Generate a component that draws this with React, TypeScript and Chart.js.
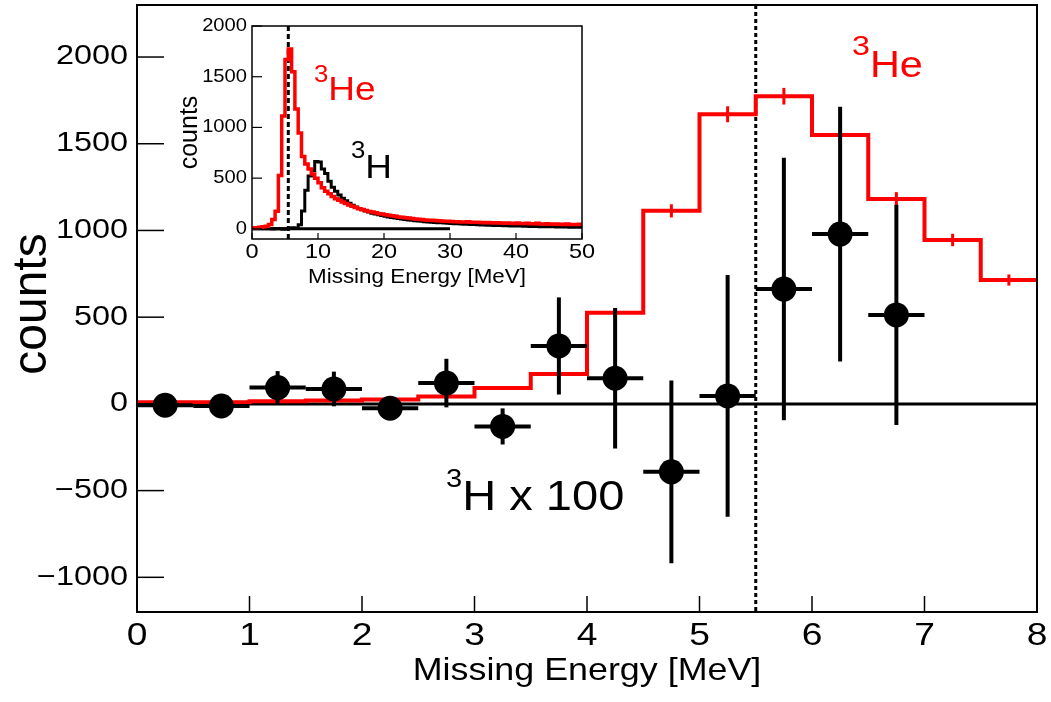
import { useEffect, useRef } from "react";
import { Chart, registerables } from "chart.js";

Chart.register(...registerables);

const FONT = '"Liberation Sans", Arial, Helvetica, sans-serif';
const RED = "#ff0000";
const BLACK = "#000000";

// Histogram binning shared by both panels (MeV)
const binWidth = 0.5;

// Main panel ranges and ticks
const mainXRange = [0, 8];
const mainYRange = [-1200, 2300];
const mainXTicks = [0, 1, 2, 3, 4, 5, 6, 7, 8];
const mainYTicks = [-1000, -500, 0, 500, 1000, 1500, 2000];

// Inset ranges and ticks
const insetXRange = [0, 50];
const insetYRange = [-100, 2000];
const insetXTicks = [0, 10, 20, 30, 40, 50];
const insetYTicks = [0, 500, 1000, 1500, 2000];

// Dashed marker position (MeV)
const markerEnergy = 5.5;

// 3He missing-energy spectrum, counts per 0.5 MeV bin from 0 to 50 MeV
const he3Counts = [
  10, 10, 15, 20, 25, 42, 92, 173, 526, 1113, 1670, 1774, 1550, 1181, 945, 714,
  640, 590, 540, 500, 455, 405, 372, 345, 320, 298,
  282, 266, 250, 236, 222, 210, 198, 190, 180, 172,
  165, 158, 150, 146, 140, 134, 128, 124, 118, 114,
  110, 106, 102, 98, 95, 92, 88, 86, 84, 82,
  80, 78, 76, 74,
  72, 70, 71, 68, 67, 69, 65, 64, 66, 62,
  61, 63, 60, 58, 61, 57, 56, 58, 55, 54,
  57, 53, 52, 55, 51, 50, 56, 49, 48, 50,
  47, 46, 49, 45, 44, 47, 43, 44, 42, 45,
];

// Statistical uncertainties of the 3He bins in the main panel (0-8 MeV)
const he3Errors = [3, 3, 4, 5, 5, 7, 10, 14, 24, 38, 46, 48, 44, 40, 36, 32];

// 3H yield scaled x100: bin centres, values and uncertainties
const h3Centers = [0.25, 0.75, 1.25, 1.75, 2.25, 2.75, 3.25, 3.75, 4.25, 4.75, 5.25, 5.75, 6.25, 6.75];
const h3Scaled = [-8, -12, 94, 86, -25, 120, -130, 334, 148, -392, 46, 662, 979, 513];
const h3ScaledErr = [25, 25, 95, 100, 40, 140, 104, 280, 405, 527, 697, 757, 735, 635];

// 3H missing-energy spectrum, counts per 0.5 MeV bin from 0 to 50 MeV
const h3Counts = [
  0, 0, 1, 1, 0, 1, -1, 3, 2, -4, 0, 7, 10, 5,
  40, 175, 380, 520, 575, 665, 660, 590, 545, 470,
  410, 372, 335, 302, 276, 252, 233, 216, 201, 188,
  176, 165, 155, 146, 138, 131, 124, 118, 112, 106,
  101, 97, 92, 88, 84, 80, 77,
  74, 71, 68, 66, 63, 61, 59, 57, 55,
  53, 51, 50, 48, 46, 45, 43, 42, 40, 39,
  38, 36, 35, 34, 33, 32, 31, 30, 29, 28,
  27, 27, 26, 25, 24, 24, 23, 22, 22, 21,
  20, 20, 19, 19, 18, 18, 17, 17, 16, 16,
];

// Extent of the 3H zero baseline drawn in the inset (MeV)
const h3BaselineRange = [0, 30];

const mainBins = Math.round((mainXRange[1] - mainXRange[0]) / binWidth);
const mainHe3 = he3Counts.slice(0, mainBins);

function stepPoints(values: number[], start: number) {
  const pts = values.map((v, i) => ({ x: start + i * binWidth, y: v }));
  pts.push({ x: start + values.length * binWidth, y: values[values.length - 1] });
  return pts;
}

function fmt(v: number) {
  return v < 0 ? "\u2212" + Math.abs(v) : String(v);
}

type TextOpts = {
  size: number;
  color?: string;
  align?: CanvasTextAlign;
  baseline?: CanvasTextBaseline;
  stretch?: number;
  rotate?: number;
};

function drawText(ctx: CanvasRenderingContext2D, text: string, x: number, y: number, o: TextOpts) {
  ctx.save();
  ctx.translate(x, y);
  if (o.rotate) ctx.rotate(o.rotate);
  ctx.scale(o.stretch ?? 1, 1);
  ctx.font = `${o.size}px ${FONT}`;
  ctx.fillStyle = o.color ?? BLACK;
  ctx.textAlign = o.align ?? "left";
  ctx.textBaseline = o.baseline ?? "alphabetic";
  ctx.fillText(text, 0, 0);
  ctx.restore();
}

// Isotope label with a raised mass number, e.g. 3He
function drawNuclide(
  ctx: CanvasRenderingContext2D,
  mass: string,
  rest: string,
  x: number,
  y: number,
  size: number,
  supSize: number,
  raise: number,
  color: string,
  stretch: number
) {
  ctx.save();
  ctx.font = `${supSize}px ${FONT}`;
  const w = ctx.measureText(mass).width * stretch;
  ctx.restore();
  drawText(ctx, mass, x, y - raise, { size: supSize, color, stretch });
  drawText(ctx, rest, x + w, y, { size, color, stretch });
}

function line(ctx: CanvasRenderingContext2D, x1: number, y1: number, x2: number, y2: number) {
  ctx.beginPath();
  ctx.moveTo(x1, y1);
  ctx.lineTo(x2, y2);
  ctx.stroke();
}

const mainDecor = {
  id: "mainDecor",
  beforeDatasetsDraw(chart: any) {
    const { ctx, chartArea: a, scales } = chart;
    ctx.save();
    ctx.strokeStyle = BLACK;
    ctx.lineWidth = 3;
    const y0 = scales.y.getPixelForValue(0);
    line(ctx, a.left, y0, a.right, y0);
    ctx.setLineDash([4, 3]);
    const xm = scales.x.getPixelForValue(markerEnergy);
    line(ctx, xm, a.top, xm, a.bottom);
    ctx.restore();
  },
  afterDatasetDraw(chart: any, args: any) {
    if (args.index !== 0) return;
    const { ctx, scales } = chart;
    ctx.save();
    ctx.strokeStyle = RED;
    ctx.lineWidth = 3;
    mainHe3.forEach((v, i) => {
      const cx = scales.x.getPixelForValue(mainXRange[0] + (i + 0.5) * binWidth);
      line(ctx, cx, scales.y.getPixelForValue(v - he3Errors[i]), cx, scales.y.getPixelForValue(v + he3Errors[i]));
    });
    ctx.restore();
  },
  beforeDatasetDraw(chart: any, args: any) {
    if (args.index !== 1) return;
    const { ctx, scales } = chart;
    ctx.save();
    ctx.strokeStyle = BLACK;
    ctx.lineWidth = 4;
    h3Centers.forEach((c, i) => {
      const v = h3Scaled[i];
      const e = h3ScaledErr[i];
      const cy = scales.y.getPixelForValue(v);
      const cx = scales.x.getPixelForValue(c);
      line(ctx, scales.x.getPixelForValue(c - binWidth / 2), cy, scales.x.getPixelForValue(c + binWidth / 2), cy);
      line(ctx, cx, scales.y.getPixelForValue(v - e), cx, scales.y.getPixelForValue(v + e));
    });
    ctx.restore();
  },
  afterDraw(chart: any) {
    const { ctx, chartArea: a, scales } = chart;
    ctx.save();
    ctx.strokeStyle = BLACK;
    ctx.lineWidth = 2;
    ctx.strokeRect(a.left, a.top, a.right - a.left, a.bottom - a.top);
    ctx.lineWidth = 1.5;
    scales.y.ticks.forEach((t: any) => {
      const py = scales.y.getPixelForValue(t.value);
      line(ctx, a.left, py, a.left + 27, py);
      drawText(ctx, fmt(t.value), a.left - 9, py, { size: 27, align: "right", baseline: "middle", stretch: 1.2 });
    });
    scales.x.ticks.forEach((t: any) => {
      const px = scales.x.getPixelForValue(t.value);
      line(ctx, px, a.bottom, px, a.bottom - 16);
      drawText(ctx, fmt(t.value), px, a.bottom + 33, { size: 31, align: "center", stretch: 1.2 });
    });
    ctx.restore();
    drawText(ctx, "Missing Energy [MeV]", (a.left + a.right) / 2, a.bottom + 68, {
      size: 32,
      align: "center",
      stretch: 1.12,
    });
    drawText(ctx, "counts", 46, 304, { size: 48, align: "center", rotate: -Math.PI / 2 });
    drawNuclide(ctx, "3", "He", 852, 77, 36, 28, 22, RED, 1.15);
    drawNuclide(ctx, "3", "H x 100", 446, 510, 42, 26, 23, BLACK, 1.12);
  },
};

const insetDecor = {
  id: "insetDecor",
  beforeDatasetsDraw(chart: any) {
    const { ctx, chartArea: a, scales } = chart;
    ctx.save();
    ctx.strokeStyle = BLACK;
    ctx.lineWidth = 3;
    ctx.setLineDash([5, 3]);
    const xm = scales.x.getPixelForValue(markerEnergy);
    line(ctx, xm, a.top, xm, a.bottom);
    ctx.restore();
  },
  afterDraw(chart: any) {
    const { ctx, chartArea: a, scales } = chart;
    ctx.save();
    ctx.strokeStyle = BLACK;
    ctx.lineWidth = 1.5;
    ctx.strokeRect(a.left, a.top, a.right - a.left, a.bottom - a.top);
    ctx.lineWidth = 1.2;
    scales.y.ticks.forEach((t: any) => {
      const py = scales.y.getPixelForValue(t.value);
      line(ctx, a.left, py, a.left + 10, py);
      drawText(ctx, fmt(t.value), a.left - 5, py, { size: 18, align: "right", baseline: "middle", stretch: 1.12 });
    });
    scales.x.ticks.forEach((t: any) => {
      const px = scales.x.getPixelForValue(t.value);
      line(ctx, px, a.bottom, px, a.bottom - 6);
      drawText(ctx, fmt(t.value), px, a.bottom + 19, { size: 21, align: "center", stretch: 1.12 });
    });
    ctx.restore();
    drawText(ctx, "Missing Energy [MeV]", (a.left + a.right) / 2, a.bottom + 44, {
      size: 20,
      align: "center",
      stretch: 1.12,
    });
    drawText(ctx, "counts", a.left - 55, (a.top + a.bottom) / 2, {
      size: 25,
      align: "center",
      rotate: -Math.PI / 2,
    });
    drawNuclide(ctx, "3", "He", 164, 100, 33, 23, 18, RED, 1.12);
    drawNuclide(ctx, "3", "H", 201, 178, 33, 23, 20, BLACK, 1.12);
  },
};

function fixedAxis(size: number, horizontal: boolean) {
  return (scale: any) => {
    if (horizontal) scale.height = size;
    else scale.width = size;
    scale.paddingTop = 0;
    scale.paddingBottom = 0;
    scale.paddingLeft = 0;
    scale.paddingRight = 0;
  };
}

function tickSetter(values: number[]) {
  return (scale: any) => {
    scale.ticks = values.map((v) => ({ value: v }));
  };
}

function mainConfig(): any {
  return {
    type: "line",
    data: {
      datasets: [
        {
          label: "3He",
          data: stepPoints(mainHe3, mainXRange[0]),
          borderColor: RED,
          borderWidth: 4,
          stepped: "before",
          pointRadius: 0,
          fill: false,
          order: 2,
        },
        {
          label: "3H x 100",
          data: h3Centers.map((c, i) => ({ x: c, y: h3Scaled[i] })),
          showLine: false,
          pointRadius: 12.5,
          pointBackgroundColor: BLACK,
          pointBorderWidth: 0,
          borderColor: BLACK,
          order: 1,
        },
      ],
    },
    options: {
      responsive: false,
      animation: false,
      devicePixelRatio: 1,
      events: [],
      layout: { autoPadding: false, padding: { top: 5, right: 14, left: 0, bottom: 0 } },
      plugins: { legend: { display: false }, tooltip: { enabled: false } },
      scales: {
        x: {
          type: "linear",
          min: mainXRange[0],
          max: mainXRange[1],
          grid: { display: false },
          border: { display: false },
          ticks: { display: false },
          afterBuildTicks: tickSetter(mainXTicks),
          afterFit: fixedAxis(90, true),
        },
        y: {
          type: "linear",
          min: mainYRange[0],
          max: mainYRange[1],
          grid: { display: false },
          border: { display: false },
          ticks: { display: false },
          afterBuildTicks: tickSetter(mainYTicks),
          afterFit: fixedAxis(137, false),
        },
      },
    },
    plugins: [mainDecor],
  };
}

function insetConfig(): any {
  return {
    type: "line",
    data: {
      datasets: [
        {
          label: "3He",
          data: stepPoints(he3Counts, insetXRange[0]),
          borderColor: RED,
          borderWidth: 3.5,
          stepped: "before",
          pointRadius: 0,
          fill: false,
          order: 1,
        },
        {
          label: "3H",
          data: stepPoints(h3Counts, insetXRange[0]),
          borderColor: BLACK,
          borderWidth: 3,
          stepped: "before",
          pointRadius: 0,
          fill: false,
          order: 2,
        },
        {
          label: "3H baseline",
          data: h3BaselineRange.map((x) => ({ x, y: 0 })),
          borderColor: BLACK,
          borderWidth: 3,
          pointRadius: 0,
          fill: false,
          order: 3,
        },
      ],
    },
    options: {
      responsive: false,
      animation: false,
      devicePixelRatio: 1,
      events: [],
      layout: { autoPadding: false, padding: { top: 26, right: 18, left: 0, bottom: 0 } },
      plugins: { legend: { display: false }, tooltip: { enabled: false } },
      scales: {
        x: {
          type: "linear",
          min: insetXRange[0],
          max: insetXRange[1],
          grid: { display: false },
          border: { display: false },
          ticks: { display: false },
          afterBuildTicks: tickSetter(insetXTicks),
          afterFit: fixedAxis(61, true),
        },
        y: {
          type: "linear",
          min: insetYRange[0],
          max: insetYRange[1],
          grid: { display: false },
          border: { display: false },
          ticks: { display: false },
          afterBuildTicks: tickSetter(insetYTicks),
          afterFit: fixedAxis(102, false),
        },
      },
    },
    plugins: [insetDecor],
  };
}

export default function App() {
  const mainRef = useRef<HTMLCanvasElement>(null);
  const insetRef = useRef<HTMLCanvasElement>(null);

  useEffect(() => {
    const main = new Chart(mainRef.current as HTMLCanvasElement, mainConfig());
    const inset = new Chart(insetRef.current as HTMLCanvasElement, insetConfig());
    return () => {
      main.destroy();
      inset.destroy();
    };
  }, []);

  return (
    <div style={{ position: "absolute", left: 0, top: 0, width: 1051, height: 702, background: "#fff" }}>
      <canvas ref={mainRef} width={1051} height={702} style={{ position: "absolute", left: 0, top: 0 }} />
      <canvas ref={insetRef} width={450} height={300} style={{ position: "absolute", left: 150, top: 0 }} />
    </div>
  );
}
